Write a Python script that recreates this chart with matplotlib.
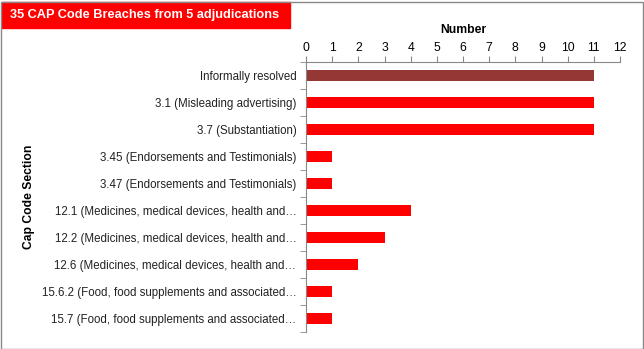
import matplotlib.pyplot as plt
from matplotlib.patches import Rectangle

# CAP code sections, top to bottom
sections = [
    "Informally resolved",
    "3.1 (Misleading advertising)",
    "3.7 (Substantiation)",
    "3.45 (Endorsements and Testimonials)",
    "3.47 (Endorsements and Testimonials)",
    "12.1 (Medicines, medical devices, health and\u2026",
    "12.2 (Medicines, medical devices, health and\u2026",
    "12.6 (Medicines, medical devices, health and\u2026",
    "15.6.2 (Food, food supplements and associated\u2026",
    "15.7 (Food, food supplements and associated\u2026",
]
counts = [11, 11, 11, 1, 1, 4, 3, 2, 1, 1]
bar_colors = ["#953735"] + ["#FF0000"] * 9
x_ticks = list(range(0, 13))

plt.rcParams["font.family"] = ["Liberation Sans", "DejaVu Sans"]

fig = plt.figure(figsize=(6.44, 3.49), dpi=100)
ax = fig.add_axes([306 / 644, 1 - 332 / 349, 314 / 644, 270 / 349])

pos = list(range(len(sections)))
ax.barh(pos, counts, height=0.42, color=bar_colors)
ax.set_ylim(len(sections) - 0.5, -0.5)
ax.set_xlim(0, 12)
ax.set_xticks(x_ticks)
ax.set_yticks(pos)
ax.set_yticklabels(sections, fontsize=8.3, color="#222222")
ax.xaxis.tick_top()
ax.xaxis.set_label_position("top")
ax.set_xlabel("Number", fontsize=8.7, fontweight="bold", labelpad=6)
ax.set_ylabel("Cap Code Section", fontsize=8.7, fontweight="bold", labelpad=0)
ax.yaxis.set_label_coords(-0.862, 0.5)
ax.tick_params(axis="x", labelsize=8.7, direction="out", length=4, color="#888888", pad=2)
ax.tick_params(axis="y", direction="out", pad=7)
# y tick marks sit between categories
ax.set_yticks([p + 0.5 for p in [-1] + pos], minor=True)
ax.tick_params(axis="y", which="major", length=0)
ax.tick_params(axis="y", which="minor", length=4, color="#888888")

for side in ["right", "bottom"]:
    ax.spines[side].set_visible(False)
for side in ["top", "left"]:
    ax.spines[side].set_color("#888888")

# title box
fig.patches.append(Rectangle((2 / 644, 1 - 28 / 349), 288 / 644, 26 / 349,
                             transform=fig.transFigure, color="#FF0000"))
fig.text(10 / 644, 1 - 15 / 349, "35 CAP Code Breaches from 5 adjudications",
         color="white", fontsize=9.2, fontweight="bold", va="center")

# outer border
fig.patches.append(Rectangle((0.5 / 644, 0.5 / 349), 642 / 644, 347 / 349,
                             transform=fig.transFigure, fill=False,
                             edgecolor="#888888", linewidth=1))

fig.savefig("out.png", dpi=100)
